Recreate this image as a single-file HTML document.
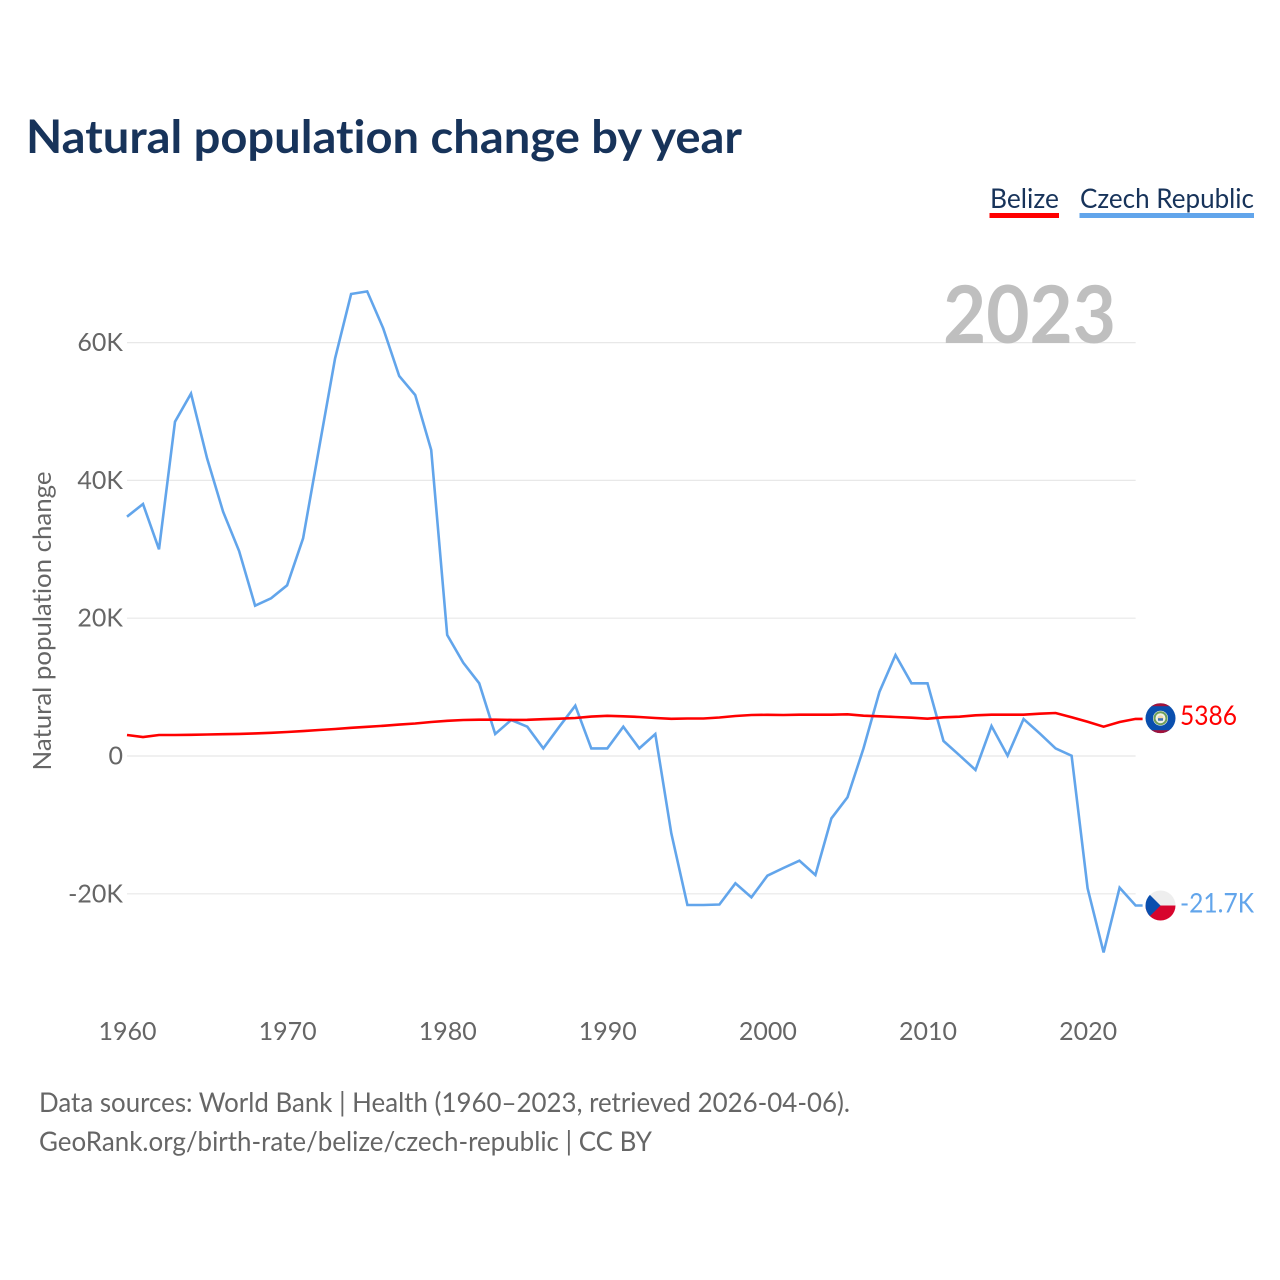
<!DOCTYPE html>
<html lang="en">
<head>
<meta charset="utf-8">
<title>Natural population change by year</title>
<style>
html,body{margin:0;padding:0;background:#fff;}
svg{display:block;}
text{font-family:"Lato","Carlito","Liberation Sans",sans-serif;font-variant-ligatures:none;}
</style>
</head>
<body>
<svg id="chart" xmlns="http://www.w3.org/2000/svg" width="1280" height="1280" viewBox="0 0 1280 1280">
  <defs>
    <clipPath id="flag-clip"><circle cx="0" cy="0" r="15"/></clipPath>
  </defs>
  <rect x="0" y="0" width="1280" height="1280" fill="#fff"/>
  <text x="26" y="153" font-size="46" font-weight="700" fill="#17335a" textLength="716" lengthAdjust="spacingAndGlyphs">Natural population change by year</text>

  <g>
    <text x="990" y="208" font-size="27" fill="#17335a" textLength="69" lengthAdjust="spacingAndGlyphs">Belize</text>
    <rect x="989.5" y="213" width="69.5" height="5" fill="#ff0000"/>
  </g>
  <g>
    <text x="1080" y="208" font-size="27" fill="#17335a" textLength="174" lengthAdjust="spacingAndGlyphs">Czech Republic</text>
    <rect x="1079.5" y="213" width="174.5" height="5" fill="#62a5eb"/>
  </g>

  <g id="grid"></g>
  <text x="943" y="343" font-size="80" font-weight="700" fill="#bfbfbf" textLength="173" lengthAdjust="spacingAndGlyphs">2023</text>
  <g id="y-ticks"></g>
  <g id="x-ticks"></g>
  <text transform="translate(51,621) rotate(-90)" text-anchor="middle" font-size="25" fill="#666" textLength="299" lengthAdjust="spacingAndGlyphs">Natural population change</text>

  <path id="line-czech" fill="none" stroke="#62a5eb" stroke-width="2.6" stroke-linejoin="miter"></path>
  <path id="line-belize" fill="none" stroke="#ff0000" stroke-width="2.6" stroke-linejoin="miter"></path>

  <g id="flag-belize">
    <g clip-path="url(#flag-clip)">
      <rect x="-15" y="-15" width="30" height="30" fill="#0a4fae"/>
      <rect x="-15" y="-15" width="30" height="3" fill="#a3123a"/>
      <rect x="-15" y="12" width="30" height="3" fill="#a3123a"/>
      <circle cx="0" cy="0" r="7.5" fill="#eef2ea"/>
      <circle cx="0" cy="0" r="6" fill="none" stroke="#6f9e5a" stroke-width="2"/>
      <circle cx="0" cy="0" r="3" fill="#f2d9a8"/>
      <rect x="-2.5" y="0" width="5" height="2.5" fill="#3b6fb5"/>
    </g>
  </g>
  <g id="flag-czech">
    <g clip-path="url(#flag-clip)">
      <rect x="-15" y="-15" width="30" height="15" fill="#eeeeee"/>
      <rect x="-15" y="0" width="30" height="15" fill="#d7052d"/>
      <polygon points="-15,-15 0,0 -15,15" fill="#0a4fae"/>
    </g>
  </g>
  <text id="value-belize" x="1180" font-size="27" fill="#ff0000" textLength="57" lengthAdjust="spacingAndGlyphs"></text>
  <text id="value-czech" x="1180" font-size="27" fill="#62a5eb" textLength="74" lengthAdjust="spacingAndGlyphs"></text>

  <text x="39" y="1112" font-size="27" fill="#666" textLength="811" lengthAdjust="spacingAndGlyphs">Data sources: World Bank | Health (1960–2023, retrieved 2026-04-06).</text>
  <text x="39" y="1151" font-size="27" fill="#666" textLength="613" lengthAdjust="spacingAndGlyphs">GeoRank.org/birth-rate/belize/czech-republic | CC BY</text>
</svg>
<script>
const years = [1960,1961,1962,1963,1964,1965,1966,1967,1968,1969,1970,1971,1972,1973,1974,1975,1976,1977,1978,1979,1980,1981,1982,1983,1984,1985,1986,1987,1988,1989,1990,1991,1992,1993,1994,1995,1996,1997,1998,1999,2000,2001,2002,2003,2004,2005,2006,2007,2008,2009,2010,2011,2012,2013,2014,2015,2016,2017,2018,2019,2020,2021,2022,2023];
const czechValues = [34730,36570,30000,48520,52600,43200,35460,29750,21820,22890,24770,31590,44700,57720,67050,67430,62070,55150,52390,44410,17560,13540,10550,3190,5220,4250,1110,4250,7300,1110,1110,4250,1110,3190,-11220,-21620,-21620,-21550,-18480,-20510,-17370,-16260,-15190,-17270,-9050,-6000,1110,9330,14660,10550,10550,2180,100,-2030,4350,50,5370,3300,1110,50,-19200,-28500,-19110,-21700];
const belizeValues = [3050,2750,3050,3050,3080,3120,3160,3210,3280,3370,3480,3620,3770,3920,4090,4240,4380,4557,4717,4935,5109,5225,5269,5269,5240,5254,5341,5414,5515,5718,5835,5762,5660,5515,5400,5443,5443,5588,5805,5950,5980,5950,5994,5994,5994,6050,5850,5762,5660,5560,5414,5617,5704,5907,5994,5994,5994,6140,6241,5617,4978,4253,4935,5386];
const yTickValues = [60000,40000,20000,0,-20000];
const yTickLabels = ['60K','40K','20K','0','-20K'];
const xTickValues = [1960,1970,1980,1990,2000,2010,2020];
const belizeEndLabel = '5386';
const czechEndLabel = '-21.7K';

const SVG_NS = 'http://www.w3.org/2000/svg';
function xScale(year){ return 127 + (year - 1960) * 16.01; }
function yScale(value){ return 756 - value * 137.8 / 20000; }
function linePath(values){
  return values.map(function(v,i){ return (i ? 'L' : 'M') + xScale(years[i]).toFixed(1) + ' ' + yScale(v).toFixed(1); }).join(' ')
    + ' L' + (xScale(years[years.length-1]) + 7).toFixed(1) + ' ' + yScale(values[values.length-1]).toFixed(1);
}

const grid = document.getElementById('grid');
const yTicks = document.getElementById('y-ticks');
yTickValues.forEach(function(v,i){
  const line = document.createElementNS(SVG_NS,'line');
  line.setAttribute('x1', 127);
  line.setAttribute('x2', xScale(2023));
  line.setAttribute('y1', yScale(v));
  line.setAttribute('y2', yScale(v));
  line.setAttribute('stroke', '#e8e8e8');
  line.setAttribute('stroke-width', '1.2');
  
  
  grid.appendChild(line);
  const t = document.createElementNS(SVG_NS,'text');
  t.setAttribute('x', 123);
  t.setAttribute('y', yScale(v) + 8.5);
  t.setAttribute('text-anchor', 'end');
  t.setAttribute('font-size', '25');
  t.setAttribute('fill', '#666');
  
  
  t.textContent = yTickLabels[i];
  yTicks.appendChild(t);
});

const xTicks = document.getElementById('x-ticks');
xTickValues.forEach(function(year){
  const t = document.createElementNS(SVG_NS,'text');
  t.setAttribute('x', xScale(year) + 0.5);
  t.setAttribute('y', 1040);
  t.setAttribute('text-anchor', 'middle');
  t.setAttribute('font-size', '25');
  t.setAttribute('fill', '#666');
  
  
  t.textContent = year;
  xTicks.appendChild(t);
});

document.getElementById('line-czech').setAttribute('d', linePath(czechValues));
document.getElementById('line-belize').setAttribute('d', linePath(belizeValues));

const belizeEndY = yScale(belizeValues[belizeValues.length-1]);
const czechEndY = yScale(czechValues[czechValues.length-1]);
document.getElementById('flag-belize').setAttribute('transform', 'translate(1160.5,' + (belizeEndY - 0.7) + ')');
document.getElementById('flag-czech').setAttribute('transform', 'translate(1160.5,' + czechEndY + ')');
const belizeText = document.getElementById('value-belize');
belizeText.setAttribute('y', belizeEndY + 6);
belizeText.textContent = belizeEndLabel;
const czechText = document.getElementById('value-czech');
czechText.setAttribute('y', czechEndY + 7);
czechText.textContent = czechEndLabel;
</script>
</body>
</html>
